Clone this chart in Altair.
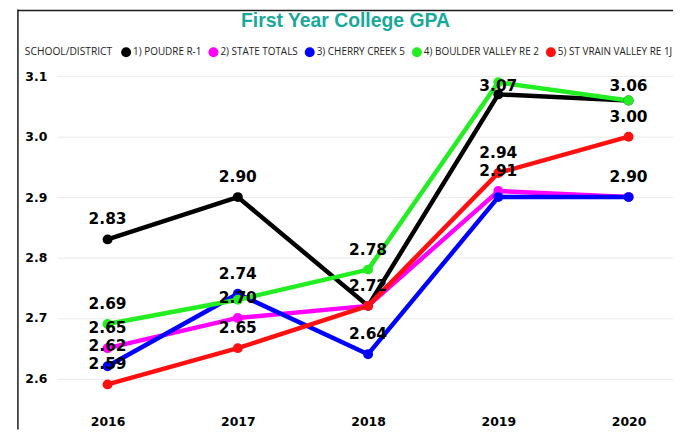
import altair as alt
import pandas as pd

# ---------------- data ----------------
years = [2016, 2017, 2018, 2019, 2020]
series = [
    "1) POUDRE R-1",
    "2) STATE TOTALS",
    "3) CHERRY CREEK 5",
    "4) BOULDER VALLEY RE 2",
    "5) ST VRAIN VALLEY RE 1J",
]
colors = ["#000000", "#FF00FF", "#0000FF", "#22EE22", "#FF1010"]

poudre = [2.83, 2.90, 2.72, 3.07, 3.06]
state_totals = [2.65, 2.70, 2.72, 2.91, 2.90]
cherry_creek = [2.62, 2.74, 2.64, 2.90, 2.90]
boulder_valley = [2.69, 2.73, 2.78, 3.09, 3.06]
st_vrain = [2.59, 2.65, 2.72, 2.94, 3.00]

# data labels that are visible in the original (others hidden by overlap)
poudre_lbl = [True, True, True, True, True]
state_lbl = [True, True, False, True, False]
cherry_lbl = [True, True, True, False, True]
boulder_lbl = [True, False, True, False, False]
stvrain_lbl = [True, True, False, True, True]

y_ticks = [2.6, 2.7, 2.8, 2.9, 3.0, 3.1]
title_text = "First Year College GPA"
legend_title = "SCHOOL/DISTRICT"

values = [poudre, state_totals, cherry_creek, boulder_valley, st_vrain]
shows = [poudre_lbl, state_lbl, cherry_lbl, boulder_lbl, stvrain_lbl]
rows = []
for name, vals, shw in zip(series, values, shows):
    for yr, v, s in zip(years, vals, shw):
        rows.append({"year": yr, "series": name, "gpa": v, "show": s})
df = pd.DataFrame(rows)

# ---------------- layout ----------------
W, H = 621, 347
PAD_L, PAD_T, PAD_B = 49, 55, 21

x_enc = alt.X(
    "year:Q",
    scale=alt.Scale(domain=[2015.609, 2020.341], nice=False, zero=False),
    axis=alt.Axis(
        values=years, format="d", title=None, grid=False, ticks=False,
        domain=False, labelPadding=7, labelFont="DejaVu Sans",
        labelFontWeight="bold", labelFontSize=12.5, labelColor="#000000",
        labelFlush=False,
    ),
)
y_scale = alt.Scale(domain=[2.55, 3.12], nice=False, zero=False)
y_enc = alt.Y(
    "gpa:Q",
    scale=y_scale,
    axis=alt.Axis(
        values=y_ticks, format=".1f", title=None, ticks=False, domain=False,
        labelAlign="left", labelPadding=32, labelFont="DejaVu Sans",
        labelFontWeight="bold", labelFontSize=12.5, labelColor="#000000",
        gridColor="#EAEAEA", gridWidth=1,
    ),
)
color_scale = alt.Scale(domain=series, range=colors)

base = alt.Chart(df)

lines = base.mark_line(strokeWidth=4.5, strokeJoin="round", strokeCap="round").encode(
    x=x_enc, y=y_enc,
    color=alt.Color("series:N", scale=color_scale, legend=None),
)

points = base.mark_point(filled=True, size=100, opacity=1).encode(
    x=x_enc, y=y_enc,
    color=alt.Color(
        "series:N", scale=color_scale,
        legend=alt.Legend(
            title=legend_title, orient="none", legendX=-32, legendY=-17,
            direction="horizontal", columns=5, titleOrient="left",
            titleFont="Open Sans", titleFontSize=10.3, titleFontWeight="normal",
            titleColor="#252423", titlePadding=9, titleBaseline="middle",
            labelFont="Open Sans", labelFontSize=10, labelColor="#252423",
            symbolType="circle", symbolSize=100, symbolStrokeWidth=0,
            labelOffset=2, columnPadding=6, padding=0,
        ),
    ),
)

labels = base.transform_filter("datum.show").transform_calculate(
    ly="min(datum.gpa + 0.033, 3.0836)"
).mark_text(
    font="DejaVu Sans", fontWeight="bold", fontSize=15.5, color="#000000",
    baseline="middle", align="center",
).encode(
    x=x_enc,
    y=alt.Y("ly:Q", scale=y_scale),
    text=alt.Text("gpa:Q", format=".2f"),
)

one = alt.Data(values=[{"t": title_text}])
frame_v = alt.Chart(one).mark_rule(color="#1a1a1a", strokeWidth=1.5).encode(
    x=alt.value(-39), y=alt.value(-PAD_T), y2=alt.value(H + PAD_B)
)
frame_h = alt.Chart(one).mark_rule(color="#1a1a1a", strokeWidth=1.5).encode(
    x=alt.value(-39), x2=alt.value(W), y=alt.value(-PAD_T + 1)
)
title = alt.Chart(one).mark_text(
    font="Liberation Sans", fontWeight="bold", fontSize=19.5, color="#17A99A",
    baseline="middle", align="center",
).encode(x=alt.value(291), y=alt.value(-43), text="t:N")

chart = alt.layer(frame_v, frame_h, lines, points, labels, title).resolve_legend(
    color="independent"
).properties(
    width=W, height=H,
    autosize=alt.AutoSizeParams(type="none"),
    padding={"left": PAD_L, "top": PAD_T, "right": 0, "bottom": PAD_B},
).configure_view(strokeWidth=0)

chart.save("out.html", embed_options={"renderer": "svg", "actions": False})
